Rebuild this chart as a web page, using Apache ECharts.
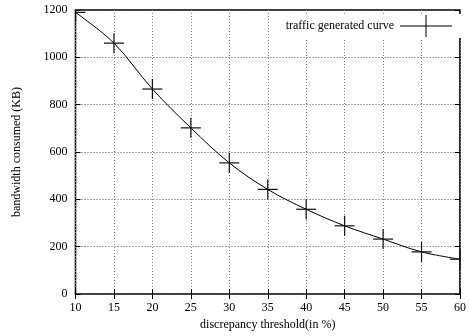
<!DOCTYPE html>
<html>
<head>
<meta charset="utf-8">
<script src="https://cdn.jsdelivr.net/npm/echarts@6/dist/echarts.min.js"></script>
<style>
  html, body { margin: 0; padding: 0; background: #fff; }
  #chart { width: 469px; height: 336px; }
</style>
</head>
<body>
<div id="chart"></div>
<script>
// Discrepancy threshold (%) on x, bandwidth consumed (KB) on y
const thresholds = [10, 15, 20, 25, 30, 35, 40, 45, 50, 55, 60];
const bandwidthKB = [1190, 1060, 866, 702, 554, 442, 358, 288, 232, 178, 147];
const seriesName = 'traffic generated curve';

const FONT = 'Liberation Serif';
const FS = 12;
const points = thresholds.map((t, i) => [t, bandwidthKB[i]]);

const chart = echarts.init(document.getElementById('chart'));

const crossIcon = 'path://M0,10.5 H52 V11.5 H0 Z M25.5,0 H26.5 V22 H25.5 Z';

const tickOnly = {
  axisLine: { show: false },
  axisLabel: { show: false },
  axisTick: { show: true, inside: true, length: 5, lineStyle: { color: '#000', width: 1 } },
  splitLine: { show: false }
};

chart.setOption({
  animation: false,
  backgroundColor: '#fff',
  grid: {
    left: 75.5, right: 2.5, top: 10, bottom: 41,
    show: true, borderColor: '#000', borderWidth: 1.6, backgroundColor: 'transparent'
  },
  legend: {
    data: [{ name: seriesName, icon: crossIcon }],
    right: 3, top: 14,
    align: 'right',
    itemWidth: 52, itemHeight: 22, itemGap: 0,
    padding: [1, 14, 1, 12],
    backgroundColor: '#fff',
    textStyle: { fontFamily: FONT, fontSize: FS, color: '#000', padding: [0, 1, 0, 0] },
    selectedMode: false
  },
  xAxis: [{
    type: 'value', min: 10, max: 60, interval: 5,
    name: 'discrepancy threshold(in %)', nameLocation: 'middle', nameGap: 25,
    nameTextStyle: { fontFamily: FONT, fontSize: FS, color: '#000' },
    axisLine: { show: false },
    axisTick: { show: true, inside: true, length: 5, lineStyle: { color: '#000', width: 1 } },
    axisLabel: { fontFamily: FONT, fontSize: FS, color: '#000', margin: 8,
      alignMinLabel: 'center', alignMaxLabel: 'center' },
    splitLine: { show: true, lineStyle: { color: '#888', type: [1, 2], width: 1 } }
  }, Object.assign({
    type: 'value', min: 10, max: 60, interval: 5, position: 'top'
  }, tickOnly)],
  yAxis: [{
    type: 'value', min: 0, max: 1200, interval: 200,
    name: 'bandwidth consumed (KB)', nameLocation: 'middle', nameGap: 53,
    nameTextStyle: { fontFamily: FONT, fontSize: FS, color: '#000' },
    axisLine: { show: false },
    axisTick: { show: true, inside: true, length: 5, lineStyle: { color: '#000', width: 1 } },
    axisLabel: { fontFamily: FONT, fontSize: FS, color: '#000', margin: 8,
      formatter: v => String(v) },
    splitLine: { show: true, lineStyle: { color: '#555', type: [1, 2], width: 1 } }
  }, Object.assign({
    type: 'value', min: 0, max: 1200, interval: 200, position: 'right'
  }, tickOnly)],
  series: [{
    name: seriesName,
    type: 'line',
    data: points,
    smooth: 0.35,
    symbol: 'none',
    clip: true,
    lineStyle: { color: '#000', width: 1 },
    itemStyle: { color: '#000' },
    z: 3
  }, {
    name: 'markers',
    type: 'custom',
    data: points,
    clip: true,
    z: 4,
    renderItem: function (params, api) {
      const p = api.coord([api.value(0), api.value(1)]);
      const h = 10;
      const st = { stroke: '#111', lineWidth: 1.2 };
      return {
        type: 'group',
        children: [
          { type: 'line', shape: { x1: p[0] - h, y1: p[1], x2: p[0] + h, y2: p[1] }, style: st },
          { type: 'line', shape: { x1: p[0], y1: p[1] - h, x2: p[0], y2: p[1] + h }, style: st }
        ]
      };
    }
  }]
});
</script>
</body>
</html>
